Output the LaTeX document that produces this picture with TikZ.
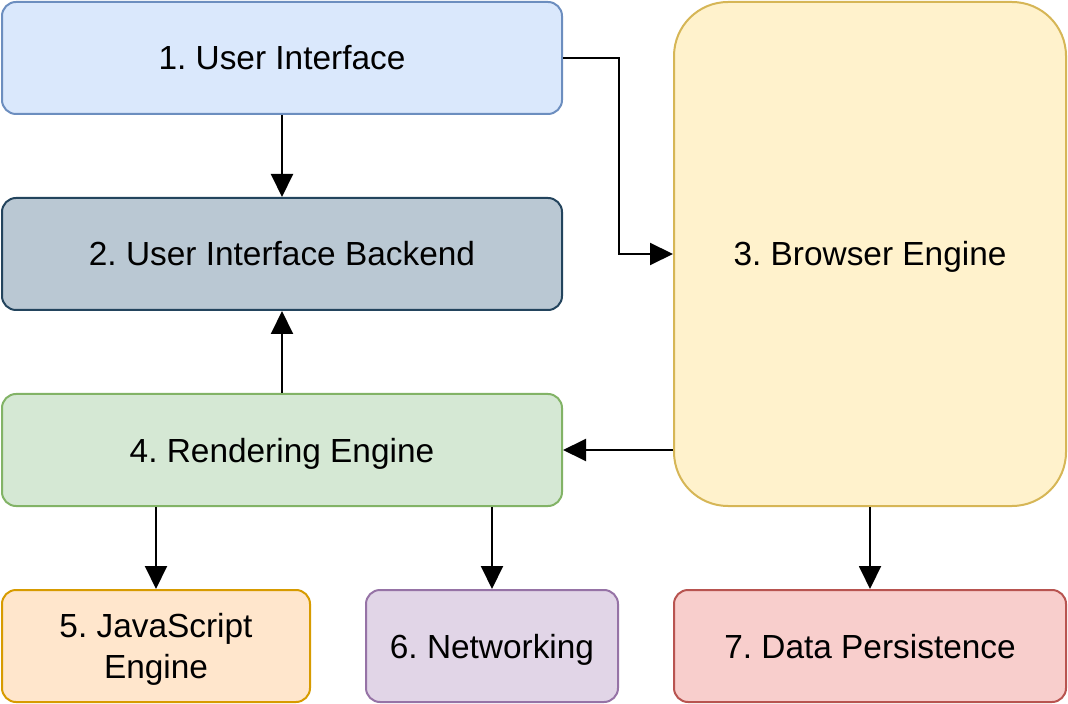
\documentclass[tikz,border=0pt]{standalone}
\usepackage{fontspec}
\setmainfont{Liberation Sans}
\usetikzlibrary{arrows.meta}
\definecolor{uiFill}{HTML}{DAE8FC}\definecolor{uiLine}{HTML}{6C8EBF}
\definecolor{beFill}{HTML}{BAC8D3}\definecolor{beLine}{HTML}{23445D}
\definecolor{brFill}{HTML}{FFF2CC}\definecolor{brLine}{HTML}{D6B656}
\definecolor{reFill}{HTML}{D5E8D4}\definecolor{reLine}{HTML}{82B366}
\definecolor{jsFill}{HTML}{FFE6CC}\definecolor{jsLine}{HTML}{D79B00}
\definecolor{nwFill}{HTML}{E1D5E7}\definecolor{nwLine}{HTML}{9673A6}
\definecolor{dpFill}{HTML}{F8CECC}\definecolor{dpLine}{HTML}{B85450}
\tikzset{
  block/.style={draw, line width=1pt, rounded corners=7pt, align=center,
    minimum height=56pt, inner sep=0pt, text height=12pt, text depth=0pt,
    font=\fontsize{16.7}{20.5}\selectfont\frenchspacing},
  flow/.style={line width=1pt, -{Triangle[length=11.5pt,width=11pt]}}
}
\begin{document}
\begin{tikzpicture}[x=0.5pt, y=-0.5pt]
    \useasboundingbox (0,0) rectangle (1068,704);
    \node[block, fill=uiFill, draw=uiLine, minimum width=280pt] (ui) at (282, 58) {1. User Interface};
    \node[block, fill=beFill, draw=beLine, minimum width=280pt] (uib) at (282, 254) {2. User Interface Backend};
    \node[block, fill=brFill, draw=brLine, minimum width=196pt, minimum height=252pt, rounded corners=27pt] (br) at (870, 254) {3. Browser Engine};
    \node[block, fill=reFill, draw=reLine, minimum width=280pt] (re) at (282, 450) {4. Rendering Engine};
    \node[block, fill=jsFill, draw=jsLine, minimum width=154pt, text height=32.5pt] (js) at (156, 646) {5. JavaScript\\Engine};
    \node[block, fill=nwFill, draw=nwLine, minimum width=126pt] (nw) at (492, 646) {6. Networking};
    \node[block, fill=dpFill, draw=dpLine, minimum width=196pt] (dp) at (870, 646) {7. Data Persistence};
    \draw [flow] (ui) to (uib);
    \draw [flow] (ui.east) -- ++(56, 0) |- (br.west);
    \draw [flow] (re) to (uib);
    \draw [flow] (br.west |- re.east) -- (re.east);
    \draw [flow] (js.north |- re.south) -- (js.north);
    \draw [flow] (nw.north |- re.south) -- (nw.north);
    \draw [flow] (br) to (dp);
\end{tikzpicture}
\end{document}
